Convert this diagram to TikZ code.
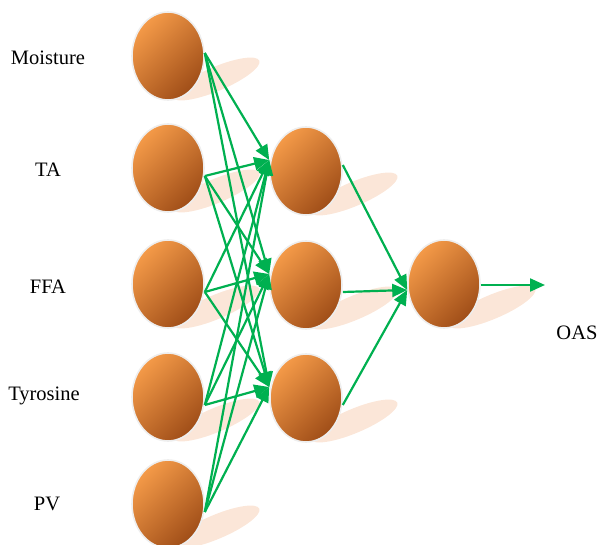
\documentclass[tikz,border=0pt]{standalone}
\usepackage{fontspec}
\setmainfont{Liberation Serif}
\usetikzlibrary{shapes.geometric,arrows.meta,calc}
\definecolor{neuronlight}{HTML}{F49A48}
\definecolor{neurondark}{HTML}{A04E18}
\definecolor{neuronrim}{HTML}{EEEEEE}
\definecolor{shadowtint}{HTML}{FBE6D8}
\definecolor{linkgreen}{HTML}{00B050}
\tikzset{
  neuron/.style={ellipse, minimum width=72pt, minimum height=88pt, inner sep=0pt,
    draw=neuronrim, line width=1.6pt,
    top color=neuronlight, bottom color=neurondark, shading angle=45},
  glow/.style={ellipse, fill=shadowtint, draw=none, minimum width=94pt,
    minimum height=24pt, inner sep=0pt, rotate=23},
  link/.style={draw=linkgreen, line width=2.2pt,
    -{Triangle[length=15pt,width=13pt]}},
  lbl/.style={font=\fontsize{20.5}{24}\selectfont, inner sep=0pt}
}
\begin{document}
\begin{tikzpicture}[x=1pt,y=-1pt]
\useasboundingbox (0,0) rectangle (598,545);
% soft shadows behind the neurons
\foreach \cx/\cy in {168/56,168/168,168/284,168/397,168/504,306/171,306/285,306/398,444/284}
  \node[glow] at (\cx+48,\cy+23) {};
% input layer
\node[neuron] (i1) at (168,56) {};
\node[neuron] (i2) at (168,168) {};
\node[neuron] (i3) at (168,284) {};
\node[neuron] (i4) at (168,397) {};
\node[neuron] (i5) at (168,504) {};
% hidden layer
\node[neuron] (h1) at (306,171) {};
\node[neuron] (h2) at (306,285) {};
\node[neuron] (h3) at (306,398) {};
% output layer
\node[neuron] (o) at (444,284) {};
% labels
\node[lbl] (t1) at (48,58) {Moisture};
\node[lbl] (t2) at (48,170) {TA};
\node[lbl] (t3) at (48,287) {FFA};
\node[lbl] (t4) at (44,396) {Tyrosine};
\node[lbl] (t5) at (47,504) {PV};
\node[lbl] (t6) at (577,333) {OAS};
% connection points
\coordinate (s1) at ($(i1.east)+(0,-3)$);
\foreach \k in {2,3,4,5} \coordinate (s\k) at ($(i\k.east)+(0,8)$);
\foreach \k in {1,2,3} \coordinate (e\k) at ($(h\k.west)+(0,-11)$);
\coordinate (r1) at ($(h1.east)+(0,-6)$);
\coordinate (r2) at ($(h2.east)+(0,7)$);
\coordinate (r3) at ($(h3.east)+(0,7)$);
\coordinate (oin) at ($(o.west)+(0,6)$);
\coordinate (oout) at ($(o.east)+(0,1)$);
\coordinate (oend) at (545,285);
% input to hidden
\foreach \a in {1,...,5}
  \foreach \b in {1,2,3}
    \draw[link] (s\a) -- (e\b);
% hidden to output
\foreach \b in {1,2,3}
  \draw[link] (r\b) -- (oin);
\draw[link] (oout) -- (oend);
\end{tikzpicture}
\end{document}
